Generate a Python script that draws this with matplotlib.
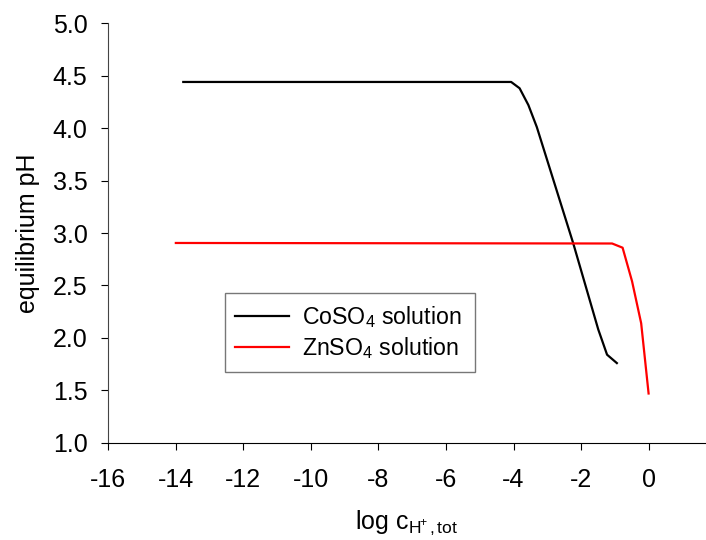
import matplotlib
matplotlib.use("Agg")
import matplotlib.pyplot as plt

plt.rcParams['font.family'] = ['Liberation Sans', 'DejaVu Sans']
plt.rcParams['mathtext.fontset'] = 'custom'
plt.rcParams['mathtext.rm'] = 'Liberation Sans'
plt.rcParams['mathtext.it'] = 'Liberation Sans'

# CoSO4 solution
co_x = [-13.78, -4.07, -3.82, -3.56, -3.31, -2.23, -1.49, -1.23, -0.94]
co_ph = [4.44, 4.44, 4.38, 4.22, 4.01, 2.90, 2.08, 1.84, 1.76]
# ZnSO4 solution
zn_x = [-14.0, -1.08, -0.77, -0.49, -0.22, 0.0]
zn_ph = [2.905, 2.90, 2.86, 2.54, 2.14, 1.47]

xticks = [-16, -14, -12, -10, -8, -6, -4, -2, 0]
yticks = [1.0, 1.5, 2.0, 2.5, 3.0, 3.5, 4.0, 4.5, 5.0]

fig = plt.figure(figsize=(7.06, 5.40), dpi=100)
ax = fig.add_axes([0.1534, 0.180, 0.8466, 0.777])

ax.plot(co_x, co_ph, color='black', lw=1.6, label=r'CoSO$_4$ solution')
ax.plot(zn_x, zn_ph, color='red', lw=1.6, label=r'ZnSO$_4$ solution')

ax.set_xlim(-16, 1.7)
ax.set_ylim(1.0, 5.0)
ax.set_xticks(xticks)
ax.set_yticks(yticks)
ax.set_xticklabels([str(t) for t in xticks])
ax.set_yticklabels([f"{t:.1f}" for t in yticks])
ax.tick_params(axis='both', direction='out', length=5, width=0.8, labelsize=18)
ax.tick_params(axis='y', pad=10)
ax.tick_params(axis='x', pad=13)

for s in ['top', 'right']:
    ax.spines[s].set_visible(False)
ax.spines['left'].set_color('#444444')
ax.spines['bottom'].set_color('black')

ax.set_ylabel('equilibrium pH', fontsize=18, labelpad=9)
ax.set_xlabel(r'log c$_{\mathrm{H}{^{\!\!+}}\mathrm{, tot}}$', fontsize=18, labelpad=12)

leg = ax.legend(loc='center', bbox_to_anchor=(0.195, 0.168, 0.419, 0.189),
                mode='expand', fontsize=16.7, frameon=True, fancybox=False,
                handlelength=2.3, handletextpad=0.58, borderpad=0.45,
                borderaxespad=0.0, labelspacing=0.25)
leg.get_frame().set_edgecolor('#555555')
leg.get_frame().set_linewidth(1.0)

fig.savefig('out.png', dpi=100)
